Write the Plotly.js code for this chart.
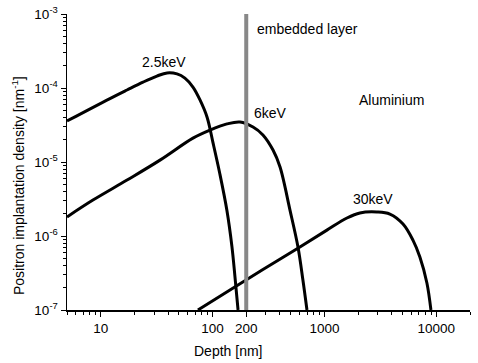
<!DOCTYPE html>
<html>
<head>
<meta charset="utf-8">
<script src="https://cdn.plot.ly/plotly-3.0.1.min.js"></script>
<style>html,body{margin:0;padding:0;background:#fff;}#chart{width:478px;height:363px;}</style>
</head>
<body>
<div id="chart"></div>
<script>
// Depth [nm] and density [nm^-1]
const depth25 = [5, 12.1, 17.2, 23.9, 31.8, 39.2, 48.1, 56.6, 66.8, 77.2, 89.2, 101, 116, 134.5, 149, 158.6, 169];
const dens25  = [3.58e-5, 7.2e-5, 9.4e-5, 1.2e-4, 1.45e-4, 1.6e-4, 1.55e-4, 1.36e-4, 1.03e-4, 6.9e-5, 4.06e-5, 1.81e-5, 7.0e-6, 2.2e-6, 7.2e-7, 2.8e-7, 1.0e-7];

const depth6 = [5, 8.53, 17.2, 33.9, 66.8, 94.8, 134.5, 176, 230, 282, 347, 401, 492, 580, 642, 698];
const dens6  = [1.81e-6, 3.06e-6, 5.7e-6, 1.06e-5, 2.1e-5, 2.7e-5, 3.27e-5, 3.47e-5, 2.97e-5, 2.32e-5, 1.45e-5, 8.55e-6, 2.24e-6, 7.1e-7, 2.54e-7, 1.0e-7];

const depth30 = [74, 158, 282, 604, 1052, 1589, 2075, 2944, 3846, 5040, 6180, 7130, 8240, 8950];
const dens30  = [1.0e-7, 2.05e-7, 3.52e-7, 7.1e-7, 1.2e-6, 1.75e-6, 2.05e-6, 2.11e-6, 1.98e-6, 1.45e-6, 8.8e-7, 5.2e-7, 2.32e-7, 1.0e-7];

const layerDepth = [200, 200];
const layerDens = [1e-7, 1e-3];

const xTickVals = [10, 100, 200, 1000, 10000];
const xTickText = ['10', '100', '200', '1000', '10000'];
const xMinorVals = [5,6,7,8,9,20,30,40,50,60,70,80,90,300,400,500,600,700,800,900,2000,3000,4000,5000,6000,7000,8000,9000,20000];
const yTickVals = [1e-7, 1e-6, 1e-5, 1e-4, 1e-3];
const yTickText = ['10<sup>-7</sup>', '10<sup>-6</sup>', '10<sup>-5</sup>', '10<sup>-4</sup>', '10<sup>-3</sup>'];
const yMinorVals = [];
[1e-7, 1e-6, 1e-5, 1e-4].forEach(d => { for (let k = 2; k <= 9; k++) yMinorVals.push(k * d); });

const curveLine = {color: '#000', width: 3, shape: 'spline', smoothing: 1};
const traces = [
  {x: depth25, y: dens25, mode: 'lines', line: curveLine, name: '2.5keV'},
  {x: depth6, y: dens6, mode: 'lines', line: curveLine, name: '6keV'},
  {x: depth30, y: dens30, mode: 'lines', line: curveLine, name: '30keV'},
  {x: layerDepth, y: layerDens, mode: 'lines', line: {color: '#888888', width: 4}, name: 'embedded layer'}
];

const font = {family: '"Liberation Sans", Arial, sans-serif', color: '#000'};
function ann(text, x, y, xanchor, extra) {
  return Object.assign({text: text, xref: 'paper', yref: 'paper', x: x, y: y, xanchor: xanchor, yanchor: 'middle',
    showarrow: false, font: Object.assign({}, font, {size: 14})}, extra || {});
}

const layout = {
  width: 478, height: 363,
  margin: {l: 67, r: 8, t: 14, b: 53},
  paper_bgcolor: '#fff', plot_bgcolor: '#fff',
  showlegend: false,
  font: font,
  xaxis: {
    type: 'log', range: [Math.log10(5), Math.log10(20000)],
    showline: true, linecolor: '#000', linewidth: 1.5, mirror: false,
    showgrid: false, zeroline: false,
    ticks: 'outside', ticklen: 5, tickwidth: 1, tickcolor: '#000',
    tickmode: 'array', tickvals: xTickVals, ticktext: xTickText,
    tickfont: Object.assign({}, font, {size: 13.5}),
    minor: {tickmode: 'array', tickvals: xMinorVals, ticks: 'outside', ticklen: 3, tickwidth: 1, tickcolor: '#000', showgrid: false}
  },
  yaxis: {
    type: 'log', range: [-7, -3],
    showline: true, linecolor: '#000', linewidth: 1.5, mirror: false,
    showgrid: false, zeroline: false,
    ticks: 'outside', ticklen: 5, tickwidth: 1, tickcolor: '#000',
    tickmode: 'array', tickvals: yTickVals, ticktext: yTickText,
    tickfont: Object.assign({}, font, {size: 13.5}),
    minor: {tickmode: 'array', tickvals: yMinorVals, ticks: 'outside', ticklen: 3, tickwidth: 1, tickcolor: '#000', showgrid: false}
  },
  annotations: [
    ann('embedded layer', 0.4665, 0.949, 'left'),
    ann('2.5keV', 0.2407, 0.838, 'center'),
    ann('6keV', 0.459, 0.667, 'left'),
    ann('Aluminium', 0.7196, 0.7095, 'left'),
    ann('30keV', 0.7593, 0.375, 'center'),
    ann('Depth [nm]', 0.3995, -0.1385, 'center'),
    ann('Positron implantation density [nm<sup>-1</sup>]', -0.1216, 0.422, 'center', {textangle: -90})
  ]
};

Plotly.newPlot('chart', traces, layout, {staticPlot: true, displayModeBar: false});
</script>
</body>
</html>
